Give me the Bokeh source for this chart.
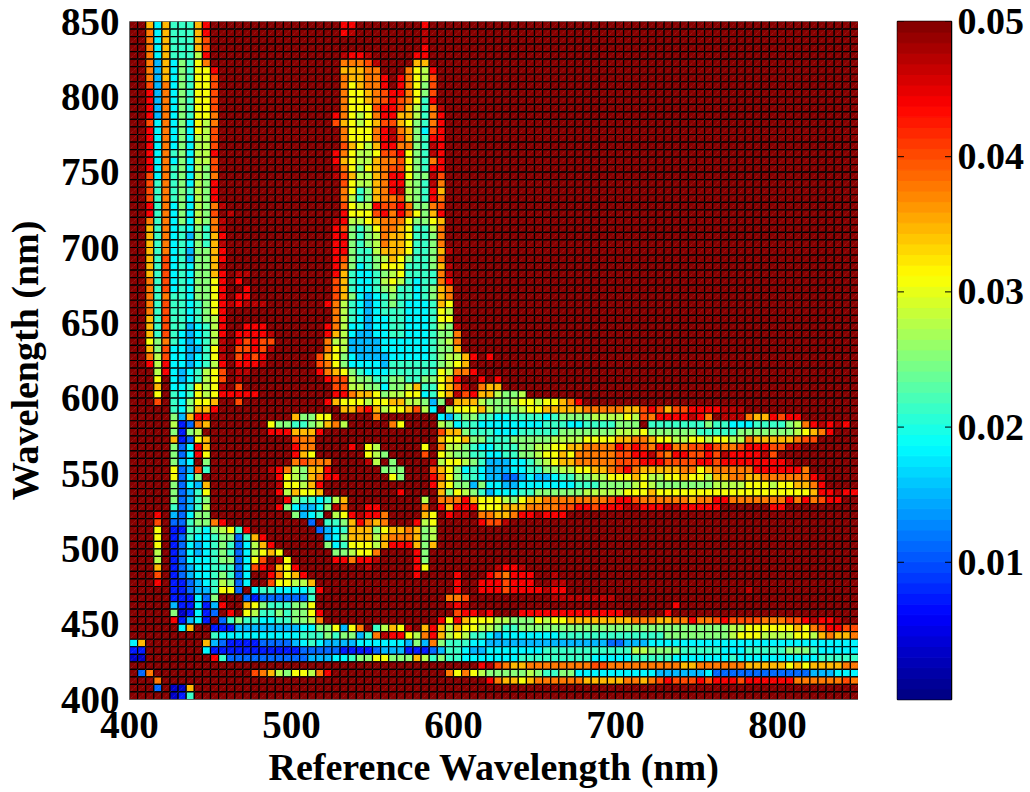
from bokeh.plotting import figure
from bokeh.layouts import row
from bokeh.models import ColumnDataSource, LinearColorMapper, FixedTicker, Range1d
from bokeh.transform import transform
from bokeh.embed import file_html
from bokeh.resources import INLINE

# Colour-read values: each letter stands for a value
VALUE_CODES = {'a': 0.003, 'b': 0.0075, 'c': 0.0115, 'd': 0.015, 'e': 0.0185, 'f': 0.0215,
               'g': 0.025, 'h': 0.028, 'i': 0.031, 'j': 0.0345, 'k': 0.0375, 'l': 0.0405,
               'm': 0.044, 'n': 0.047, '.': 0.05}

# One entry per row from 850 nm down to 405 nm; "col:letters" tokens, everything else is 0.05
CELL_ROWS = [
"2:jejfffjm 26:mm 36:m",
"2:kejfffjm 26:mn 36:n",
"2:kejfffjl 36:n",
"2:kejfffjl 36:m",
"2:kejfffhm 26:nmmn 35:mm",
"2:kdjegfik 26:kkkln 35:jj",
"2:kdjegfiim 26:jjjkk 34:kihm",
"2:kdjegfiil 26:kjjkkm 33:mkihl",
"2:ldkegfiil 26:kijkkm 33:mkigl",
"2:mdkegfiil 26:kiijklmmkigl",
"2:mdkegfiil 26:kiijklmlkifm",
"2:mdkegfiil 26:kiiilmmljhfkn",
"2:mdkegfiik 25:mkihikmmjjhfkm",
"2:lekegeihk 25:ljihijlljigfkm",
"2:mekegeihl 26:kiiikmnkjgelm",
"2:mekegehhl 26:kiiikmnljgfmm",
"2:mekegehhl 26:ljihjmmkkgfnm",
"2:mekfgehhm 25:mkihhillmigfnm",
"2:mekegehhl 25:mjihhjkkligfkm",
"2:mekfgehgl 25:nkigijklligfmm",
"2:lekfgehgk 25:nljhhjkmmiggnl",
"2:lfkfgehgm 26:lihhjkmmhgfnk",
"2:lfkfgfhgm 26:kifgjkmnhgfmj",
"2:lfkfgehgm 26:khfgjkklhgfmk",
"2:mfkegehgk 11:n 26:lihhmllmkggkl",
"2:mfkegehgl 12:n 26:miiilmkmkigjm",
"2:kfkegehgk 11:n 25:nmhhijkkkiggij",
"2:jfkefegfk 11:n 25:mlgfgikkjiffhk",
"2:jfkefdgfj 11:m 25:mmgfghkjjiffgk",
"2:jfkefegfjn 25:mmgfghkjjiffgk",
"2:jfkefdggjm 25:mmgffhjjjiffgjn",
"2:jflefdggjm 25:mlgffghjigffgk",
"2:jflefeggjn 25:mkgefgiiifffgjn",
"2:jflefeggjm 13:nn 25:mjfeefghiffffkn",
"2:kflefeggim 13:m 25:ljfeefhihfeffkm",
"2:kflefeggim 14:m 25:ljfeefghffefgjk",
"2:kfkffeggim 13:mm 25:ljgedefgffefgjk",
"2:kflffefgim 12:nmnnn 24:mkhfedefgfeeefji",
"2:kflffefgim 25:khfedefffeeefih",
"2:jflffefghm 25:khfedeeffeeefii",
"2:jflffdefhm 14:mmm 24:mkheedeeffeeefhgn",
"2:jflfedefhm 13:mmmmn 24:mjheddeeffeeefggk",
"2:igkfedefhn 13:mlmll 24:khhddddeeeeeefghk",
"2:jgleeddfin 13:llmln 24:kihddddeeeeeefggj",
"2:khleedefin 13:lmlm 23:ljigeddddeeeeefghhjm.m",
"2:mhmeedefhm 13:mmmn 23:lkigeeeedffffffghij",
"3:hmedefhil 13:nn 23:mkjigfeeeffffffihkkm",
"3:i.edefhil 13:n 24:mllhggffggffggijm 43:m 45:m",
"3:j 5:eefihin 13:l 25:llhhggegghjffijln.kjj",
"3:i 5:fefihim 12:mmmm 25:mmkjjighhiiefijnlmjjhggh",
"3:l 5:fegiij 13:l 24:mjiiihiijjhhgdg.jjjhggghiihiijkm",
"5:fegjjm 26:jjlmjhiijlhe.hiiijhggghiijjjjjkkkkkjjlmljllmmmmnnn",
"5:gdjmm 20:jggii 30:k 38:edfggffeeffffefgggghhhhihlkmmmmnmk.nnnkjjmlmm",
"5:hbckj 17:iggffghjkh 32:ki 38:hgeffeeeeeeeefffeeffffggg 64:fffffffgffeeeffffgh 83:kmnmnm",
"5:gbgh 17:mmmjjjm 38:ljjgfffeeefffffggggggghhhiggggggfffffggggggg hijkm",
"5:jbcij 20:lkk 38:jiijggfffggggghhhhiiiijjkkjiihhiihiihhkjjjjjkll",
"5:gcemj 20:mkk 27:m 29:ih 36:i.khhgfeefffgghhiijjkkkkmlmlkmmkkllmlkklmmmllnn",
"5:gcemi 20:mji 29:ihg 36:l.ihggffeeffgghiijikkkkkllmmnlkmmllmlnmmmmnl",
"5:gde.g 20:klkkk 29:nh 32:g 37:nhiihgfdddeefghijjkkkkklllmmmllllmmlmmmmmmmmn",
"5:icdlf 17:nmkhgjjm 31:ggg 37:ljigefedddeeffgghhiijjklmkjjjjjkkijkkkkkmmmmmmk",
"5:iceg 18:mihgjkmm 32:ig 37:mkigffeddccdeddeffgghhiiijihhiijiihjjkkjjkkkkkkmn",
"5:gcedj 18:niihjm 37:mjiggdgeeddeeeeeeefffgggghihggggggghhhhiiihiijjkm",
"5:gcdfi 18:mhjiij 33:m 38:jgihgfdeeeffgggggghhhhhiiijiiiiiiiiiiiiiiiiiiijmmnmmm",
"5:gcdfg 19:mgffefhj 36:h.kkkmjiiihgijjkkkkkkkklmmlkkkkkkjkkmmkkkkkkkmkmklmm",
"5:fcdfh 18:mgeddegnk 29:mm 36:k.mjmmmiiijjjkkkkllmmlmmmnnmmmnnmmmmm 79:mm",
"3:m 5:dcegg 20:gdef 25:himnmmk 36:ji.mnn.kkjjkmmnmmm",
"3:l 5:ccfggkm 22:c 24:ffgjmkjk 35:mhi 43:mlln",
"3:i 5:bbffeghifm 23:cdefjjjgijjkjgh 36:gh",
"3:i 5:bcfeefggcfjm 24:degjjjhjkkkjgh",
"3:i 5:bcedefgfcehjm 24:gefiiihjmmmjgj",
"3:h 5:bcedefgfcehiji 25:gghiik 35:mg",
"3:h 5:bceeefggceil.ni 25:mmkmmn 35:mg",
"3:j 5:bcdeefffcelmnjim 29:n 35:mi 45:nmmn",
"3:l 5:bcdeefgfce..mkijm 35:m 40:m 44:mlkmmm 52:n",
"3:m 5:bbcdefhgce 17:liihhj 40:m 43:mmmlmmm 52:nn",
"5:bbcddfiic.effeeeefm 40:m 43:mmmlmmmmnmm 76:n",
"5:bbbecg 14:cbccccccf 39:kkl 52:nnnnnnnn",
"5:dbbebdm 14:jigfffggi 39:nmn 67:m",
"5:gabebc.m 14:ihffgfggim 40:lmmnm 48:mmmmmmmmmmmmm 66:m",
"5:mbdeb.cfgffeeffgghk 38:mimjiiihhgggihiijjjjjjjjkkkjjkkmkklmllllkkkllmnmmn",
"6:ej 10:bbbddddddddeeggidik.fhjin.jmjhjiihhgff 48:ggggggggggggggggggggggggg 73:ghhiiiiiiji 84:klmmll",
"10:feeeeeeeeeefffgfggdfknmmihkmjhihffede 47:eeeeee 53:fffffffffffff 66:ggggggg 73:ghiiihhhhiihjkjjk",
"0:ej 9:jdcbbbbccccdefeddddeeeeeedgdkgfffeeddd 47:ddddddddddddcc 61:dddeeeeeeeeeeeeeeeeeeeeeeeeeeeeee",
"0:bb 9:ebbbbbbbbbbbcccccbbbbcdddbbbcdffeddee 46:eeeeefffffffffff 62:hhggggfffffeeefff 79:ffgggfeeeee",
"0:aa 10:mfccccccccccdddeefggiigggjhfgff 41:eeeeeeefffffffffeeeeefffffeeeeeeefeeeeeeeeeefffff",
"43:mnlkjjkkkkkkkkllkkkkkkkkkjjkkkkkkjjjjjijijjjjkk",
"1:ck 15:lkjhgiihkm 39:kikihggggghgffggf 55:eeeeeeeeeeddddddeccccccccccccdddeeee",
"3:k 44:mkjjijkkkkkkjjjjjkkjklmlllmlmmmlmmmmmmkkkkkklkj",
"3:c 5:aaj",
"5:abf",
]

X_START = 400
Y_TOP = 850
STEP = 5
N_CELLS = 90
X_TICKS = [400, 500, 600, 700, 800]
Y_TICKS = [400, 450, 500, 550, 600, 650, 700, 750, 800, 850]
BAR_TICKS = [0.01, 0.02, 0.03, 0.04, 0.05]
BAR_LOW = -0.00015
BAR_HIGH = 0.05
BAR_LEVELS = 64


def jet(n):
    out = []
    for k in range(n):
        t = (k + 0.5) / n
        r = min(max(min(4 * t - 1.5, -4 * t + 4.5), 0), 1)
        g = min(max(min(4 * t - 0.5, -4 * t + 3.5), 0), 1)
        b = min(max(min(4 * t + 0.5, -4 * t + 2.5), 0), 1)
        out.append("#%02x%02x%02x" % (round(r * 255), round(g * 255), round(b * 255)))
    return out


def decode(entry):
    cells = ['.'] * N_CELLS
    pos = 0
    for tok in entry.split():
        if ':' in tok:
            col, letters = tok.split(':')
            pos = int(col)
        else:
            letters = tok
        for ch in letters:
            if pos < N_CELLS:
                cells[pos] = ch
            pos += 1
    return [VALUE_CODES[c] for c in cells]


palette = jet(BAR_LEVELS)
mapper = LinearColorMapper(palette=palette, low=BAR_LOW, high=BAR_HIGH)

left, right, top, bottom, val = [], [], [], [], []
for r, entry in enumerate(CELL_ROWS):
    for c, v in enumerate(decode(entry)):
        left.append(X_START + STEP * c)
        right.append(X_START + STEP * (c + 1))
        top.append(Y_TOP - STEP * r)
        bottom.append(Y_TOP - STEP * (r + 1))
        val.append(v)
src = ColumnDataSource(dict(left=left, right=right, top=top, bottom=bottom, val=val))

FONT = "Liberation Serif"
SIZE = "38px"
TICK_SIZE = "39px"

p = figure(width=858, height=790, x_range=Range1d(400, 850), y_range=Range1d(400, 850),
           toolbar_location=None, output_backend="svg",
           min_border_left=128, min_border_right=0, min_border_top=20, min_border_bottom=90,
           x_axis_label="Reference Wavelength (nm)", y_axis_label="Wavelength (nm)")
p.quad(left="left", right="right", top="top", bottom="bottom", source=src,
       fill_color=transform("val", mapper), line_color="#000000", line_width=1.2)
p.segment(x0="left", y0="bottom", x1="right", y1="top", source=src,
          line_color="#ffffff", line_alpha=0.18, line_width=1, line_dash="1 1")
p.grid.visible = False
p.outline_line_color = None
p.xaxis.ticker = FixedTicker(ticks=X_TICKS)
p.yaxis.ticker = FixedTicker(ticks=Y_TICKS)
for ax in (p.xaxis[0], p.yaxis[0]):
    ax.major_label_text_font = FONT
    ax.major_label_text_font_style = "bold"
    ax.major_label_text_font_size = TICK_SIZE
    ax.major_label_text_color = "#000000"
    ax.axis_label_text_font = FONT
    ax.axis_label_text_font_style = "bold"
    ax.axis_label_text_font_size = SIZE
    ax.axis_label_text_color = "#000000"
    ax.major_tick_line_color = None
    ax.minor_tick_line_color = None
    ax.axis_line_color = "#666666"
p.xaxis[0].major_label_standoff = 6
p.xaxis[0].axis_label_standoff = 5
p.yaxis[0].major_label_standoff = 4
p.yaxis[0].axis_label_standoff = 12
p.yaxis[0].major_label_orientation = "horizontal"

# colour bar
levels = [BAR_LOW + (BAR_HIGH - BAR_LOW) * k / BAR_LEVELS for k in range(BAR_LEVELS + 1)]
bar = ColumnDataSource(dict(bottom=levels[:-1], top=levels[1:], color=palette,
                            left=[0] * BAR_LEVELS, right=[1] * BAR_LEVELS))
q = figure(width=170, height=790, x_range=Range1d(0, 1), y_range=Range1d(BAR_LOW, BAR_HIGH),
           toolbar_location=None, output_backend="svg", y_axis_location="right",
           min_border_left=39, min_border_right=77, min_border_top=21, min_border_bottom=87)
q.quad(left="left", right="right", top="top", bottom="bottom", color="color", source=bar)
q.grid.visible = False
q.xaxis.visible = False
q.yaxis[0].major_tick_line_color = None
q.outline_line_color = "#000000"
q.outline_line_width = 1.5
# inward tick marks on both edges of the bar
q.segment(x0=[0] * len(BAR_TICKS), x1=[0.12] * len(BAR_TICKS), y0=BAR_TICKS, y1=BAR_TICKS,
          line_color="#000000", line_width=1)
q.segment(x0=[0.88] * len(BAR_TICKS), x1=[1] * len(BAR_TICKS), y0=BAR_TICKS, y1=BAR_TICKS,
          line_color="#000000", line_width=1)
ra = q.yaxis[0]
ra.ticker = FixedTicker(ticks=BAR_TICKS)
ra.major_label_text_font = FONT
ra.major_label_text_font_style = "bold"
ra.major_label_text_font_size = SIZE
ra.major_label_text_color = "#000000"
ra.major_tick_in = 0
ra.major_tick_out = 0
ra.minor_tick_line_color = None
ra.major_label_standoff = 6
ra.axis_line_color = "#000000"

open("out.html", "w").write(file_html(row(p, q, spacing=0), INLINE))
